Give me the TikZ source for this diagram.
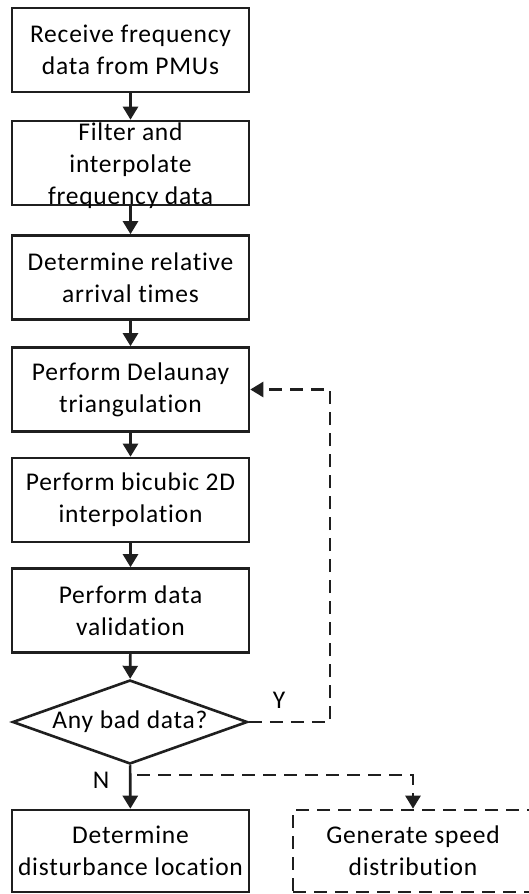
\documentclass[tikz,border=0pt]{standalone}
\usepackage{fontspec}
\setmainfont{Carlito}[Ligatures={NoCommon}, LetterSpace=3]
\usetikzlibrary{shapes.geometric,arrows.meta}
\begin{document}
\begin{tikzpicture}[x=1pt,y=-1pt,
  every node/.style={font=\fontsize{25.5}{32}\selectfont},
  stepbox/.style={draw=black!88, line width=2.6pt, minimum width=237pt, minimum height=84pt, inner sep=0pt, align=center},
  dbox/.style={stepbox, dash pattern=on 13pt off 8pt},
  decision/.style={draw=black!88, line width=2.6pt, diamond, aspect=2.8, inner sep=0pt, minimum width=235pt, minimum height=84pt},
  flow/.style={draw=black!88, line width=2.6pt, -{Triangle[length=13pt,width=15pt]}},
  dflow/.style={flow, dash pattern=on 13pt off 8pt},
  dline/.style={draw=black!88, line width=2.6pt, dash pattern=on 13pt off 8pt}]
\useasboundingbox (0,0) rectangle (528,894);
\node[stepbox] (b1) at (130.5,50) {Receive frequency\\data from PMUs};
\node[stepbox] (b2) at (130.5,163) {};
\node[align=center, inner sep=0pt] (t2) at (130.5,166) {Filter and\\interpolate\\frequency data};
\node[stepbox] (b3) at (130.5,277.5) {Determine relative\\arrival times};
\node[stepbox] (b4) at (130.5,389.5) {Perform Delaunay\\triangulation};
\node[stepbox] (b5) at (130.5,500) {Perform bicubic 2D\\interpolation};
\node[stepbox] (b6) at (130.5,610.5) {Perform data\\validation};
\node[decision] (d) at (130,722) {Any bad data?};
\node[stepbox, minimum height=82pt] (b7) at (130.5,851) {Determine\\disturbance location};
\node[dbox, minimum width=240pt, minimum height=82pt] (b8) at (413,851) {Generate speed\\distribution};
\draw[flow] (b1) -- (b2);
\draw[flow] (b2) -- (b3);
\draw[flow] (b3) -- (b4);
\draw[flow] (b4) -- (b5);
\draw[flow] (b5) -- (b6);
\draw[flow] (b6) -- (d);
\draw[flow] (d) -- (b7);
\coordinate (yc) at (330,722);
\draw[dflow] (d.east) -- (yc) |- (b4.east);
\node (ylab) at (279,700) {Y};
\coordinate (ns) at (137,775);
\coordinate (nc) at (413,775);
\draw[dflow] (ns) -- (nc) -- (b8.north);
\node (nlab) at (101,780) {N};
\end{tikzpicture}
\end{document}
